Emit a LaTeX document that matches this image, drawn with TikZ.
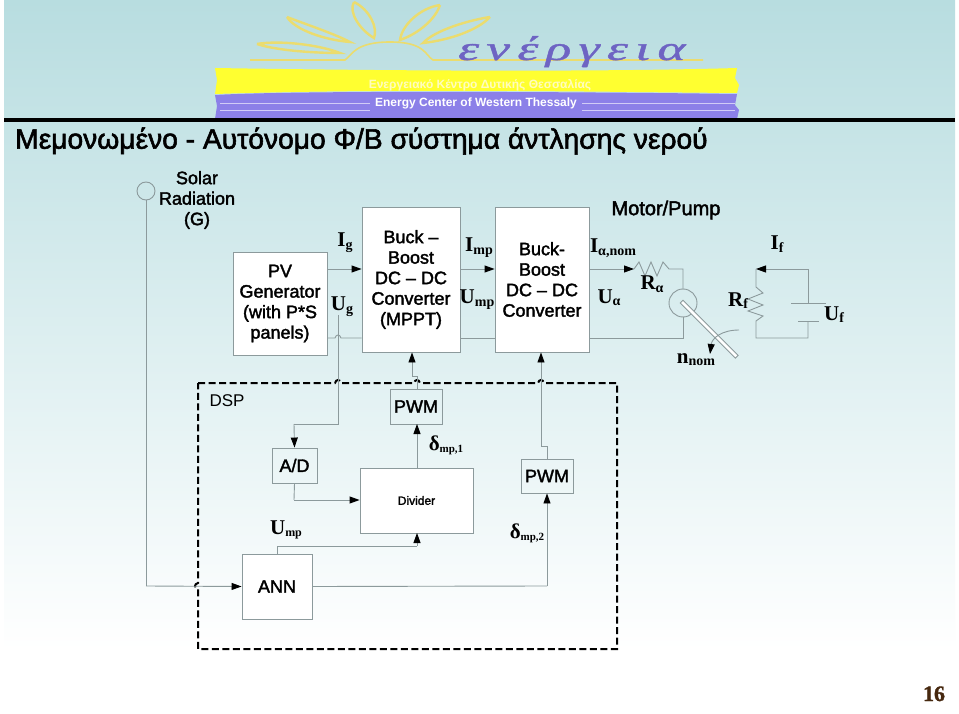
\documentclass[tikz,border=0pt]{standalone}
\usepackage{fontspec}
\setmainfont{Liberation Sans}
\newfontfamily\lab[FakeBold=2]{Liberation Sans}
\newfontfamily\srf{Liberation Serif}
\newfontfamily\srfb[FakeBold=1.5]{Liberation Serif}
\newfontfamily\logof[LetterSpace=14,FakeBold=1]{Liberation Serif}
\usetikzlibrary{arrows.meta}
\definecolor{ln}{HTML}{8C9A9C}
\definecolor{pet}{HTML}{EBDC6E}
\definecolor{bandy}{HTML}{FFFF30}
\definecolor{bandv}{HTML}{8C80E8}
\newcommand{\sbl}[3][14]{{\fontsize{21}{21}\selectfont\srf\bfseries #2}\raisebox{-2.5pt}{\fontsize{#1}{14}\selectfont\srf\bfseries #3}}
\begin{document}
\begin{tikzpicture}[x=1pt,y=-1pt,
  wire/.style={draw=ln,line width=0.9pt},
  arr/.style={wire,-{Triangle[length=10pt,width=7pt,black]}},
  boxw/.style={draw=ln,fill=white,line width=0.9pt,align=center,inner sep=0pt,font=\fontsize{18}{20.5}\selectfont\lab},
  boxn/.style={draw=ln,line width=0.9pt,align=center,inner sep=0pt,font=\fontsize{18}{20.5}\selectfont\lab},
  txt/.style={align=center,inner sep=0pt,font=\fontsize{18}{20.5}\selectfont\lab},
  sym/.style={inner sep=0pt,anchor=base},
  petal/.style={draw=pet,fill=none,line width=2.4pt},
  dsp/.style={draw=black,line width=2pt,dash pattern=on 7pt off 3.5pt}]
\useasboundingbox (0,0) rectangle (959,714);
\fill[white] (0,0) rectangle (959,714);
\shade[top color={rgb,255:red,184;green,221;blue,224},bottom color=white] (4,1) rectangle (955,650);
% logo
\draw[petal] (257,44) .. controls (280,40) and (320,45) .. (340,53) .. controls (310,53) and (275,50) .. (257,44);
\draw[petal] (287,17) .. controls (305,24) and (335,34) .. (350,42) .. controls (325,40) and (295,30) .. (287,17);
\draw[petal] (354,2) .. controls (370,10) and (378,28) .. (374,38) .. controls (360,30) and (348,12) .. (354,2);
\draw[petal] (440,5) .. controls (420,8) and (402,25) .. (400,40) .. controls (420,33) and (436,18) .. (440,5);
\draw[petal] (490,17) .. controls (470,20) and (435,30) .. (423,43) .. controls (450,40) and (478,30) .. (490,17);
\draw[petal,line width=1.6pt] (250,60) -- (345,60) .. controls (352,55) and (355,42) .. (390,42) .. controls (425,42) and (425,55) .. (433,60) -- (703,60);
\node[inner sep=0pt,anchor=base west,text={rgb,255:red,110;green,100;blue,195}] (logo) at (458,60) {\scalebox{1.56}[1]{\fontsize{34}{34}\selectfont\logof\itshape ενέργεια}};
\fill[bandy] (215,68) .. controls (400,71) and (600,72) .. (737,68) -- (735,78) -- (739,85) -- (737,93) .. controls (600,92) and (400,88) .. (215,94) -- (217,80) -- cycle;
\fill[bandv] (215,95) .. controls (300,90) and (600,92) .. (737,94) -- (735,105) -- (739,110) -- (737,119) -- (215,119) -- (217,106) -- cycle;
\draw[white!60!bandv,line width=0.6pt] (220,103) -- (370,103) (582,103) -- (735,103) (220,110) -- (370,110) (582,110) -- (735,110);
\fill[black] (4,118) rectangle (955,122);
\node[inner sep=0pt,text=white!75!yellow] (gr) at (480,85) {\fontsize{12}{12}\selectfont\bfseries Ενεργειακό Κέντρο Δυτικής Θεσσαλίας};
\node[inner sep=0pt,text=white] (en) at (476,103) {\fontsize{12}{12}\selectfont\bfseries Energy Center of Western Thessaly};
\node[inner sep=0pt,anchor=west] (title) at (15,141) {\fontsize{28.2}{28.2}\selectfont\lab Μεμονωμένο - Αυτόνομο Φ/Β σύστημα άντλησης νερού};
% blocks
\node[boxw,minimum width=94pt,minimum height=103pt] (pv) at (280,303.5) {PV\\Generator\\(with P*S\\panels)};
\node[boxw,minimum width=98pt,minimum height=145pt] (b1) at (411,279.5) {Buck –\\Boost\\DC – DC\\Converter\\(MPPT)};
\node[boxw,minimum width=94pt,minimum height=145pt] (b2) at (542,279.5) {Buck-\\Boost\\DC – DC\\Converter};
\node[boxn,minimum width=52pt,minimum height=35pt] (pwm1) at (416,406.5) {PWM};
\node[boxn,minimum width=45pt,minimum height=35pt] (ad) at (294.5,465.5) {A/D};
\node[boxw,minimum width=113pt,minimum height=65pt,font=\fontsize{12}{14}\selectfont\lab] (div) at (416.5,500.5) {Divider};
\node[boxn,minimum width=52pt,minimum height=34pt] (pwm2) at (547,476) {PWM};
\node[boxn,fill=white,minimum width=70pt,minimum height=65pt] (ann) at (277,586.5) {ANN};
\node[txt] (solar) at (197,200) {Solar\\Radiation\\(G)};
\node[txt,font=\fontsize{20}{22}\selectfont\lab] (motor) at (666,210) {Motor/Pump};
\node[inner sep=0pt,font=\fontsize{17}{20}\selectfont] (dsplbl) at (227,401) {DSP};
\node[wire,circle,minimum size=18pt,inner sep=0pt] (sun) at (146,191) {};
% dsp frame
\draw[dsp] (198,383) -- (335,383) .. controls (336,379) and (340,379) .. (341,383) -- (414,383) .. controls (415,379) and (419,379) .. (420,383) -- (538,383) .. controls (539,379) and (543,379) .. (544,383) -- (617,383) -- (617,649) -- (198,649) -- (198,589) .. controls (194,588) and (194,584) .. (198,583) -- cycle;
% connectors upper
\draw[arr] (pv.east |- 0,269) -- (b1.west |- 0,269);
\draw[arr] (b1.east |- 0,269) -- (b2.west |- 0,269);
\coordinate (ra0) at (634,269); \coordinate (rt) at (683,269); \coordinate (mt) at (683,289);
\draw[arr] (b2.east |- 0,269) -- (ra0);
\draw[wire] (ra0) -- (639,262) -- (645,276) -- (651,262) -- (657,276) -- (663,262) -- (669,269) -- (rt) -- (mt);
\node[draw=ln,line width=0.9pt,circle,minimum size=28pt,inner sep=0pt] (mot) at (683,303) {};
\coordinate (mb) at (683,338);
\draw[wire] (mot.south) -- (mb) -- (b2.east |- mb);
\draw[wire] (pv.east |- mb) -- (335,338) .. controls (336,334) and (340,334) .. (341,338) -- (b1.west |- mb);
\draw[wire] (b1.east |- mb) -- (b2.west |- mb);
\draw[wire,fill=white,rotate around={-45:(683,303)}] (681,301) rectangle (759,305);
\coordinate (na) at (739,330); \coordinate (nb) at (710,354);
\draw[wire,-{Triangle[length=10pt,width=7pt,black]}] (na) .. controls (722,330) and (712,338) .. (nb);
% field
\coordinate (ft) at (808,269); \coordinate (fl) at (756,269); \coordinate (c1) at (808,303); \coordinate (c2) at (808,321); \coordinate (fb) at (808,338); \coordinate (lb) at (756,338);
\draw[arr] (c1) -- (ft) -- (fl);
\draw[wire] (fl) -- (756,287) -- (763,293) -- (748,299) -- (763,305) -- (748,311) -- (763,316) -- (756,321) -- (lb) -- (fb) -- (c2);
\draw[wire] (791,303) -- (826,303);
\draw[wire] (798,321) -- (819,321);
% lower connectors
\coordinate (ugs) at (338,315); \coordinate (ugk) at (338,424); \coordinate (ugl) at (294,424);
\draw[wire] (ugs) -- (ugk) -- (ugl);
\draw[arr] (ugl) -- (ad.north);
\coordinate (k1) at (417,376); \coordinate (k2) at (412,376);
\draw[wire] (pwm1.north -| k1) -- (k1) -- (k2);
\draw[arr] (k2) -- (k2 |- b1.south);
\coordinate (adk) at (294,500);
\draw[wire] (ad.south) -- (adk);
\draw[arr] (adk) -- (div.west |- adk);
\draw[arr] (417,468) -- (417,424);
\coordinate (an1) at (277,546); \coordinate (an2) at (417,546);
\draw[wire] (ann.north) -- (an1) -- (an2);
\draw[arr] (an2) -- (417,533);
\coordinate (pk) at (547,586);
\draw[wire] (ann.east) -- (pk);
\draw[arr] (pk) -- (pwm2.south);
\coordinate (p1) at (547,446); \coordinate (p2) at (541,446);
\draw[wire] (pwm2.north) -- (p1) -- (p2);
\draw[arr] (p2) -- (p2 |- b2.south);
\coordinate (sk) at (146,586);
\draw[wire] (sun.south) -- (sk);
\draw[arr] (sk) -- (ann.west);
% symbols
\node[sym] (ig) at (345,247) {\sbl{I}{g}};
\node[sym] (ug) at (342,311) {\sbl{U}{g}};
\node[sym] (imp) at (479,252) {\sbl{I}{mp}};
\node[sym] (ump) at (477,304) {\sbl{U}{mp}};
\node[sym] (ian) at (613,253) {\sbl{I}{α,nom}};
\node[sym] (ua) at (609,303) {\sbl{U}{α}};
\node[sym] (ra) at (652,290) {\sbl{R}{α}};
\node[sym] (rf) at (738,306) {\sbl{R}{f}};
\node[sym] (if) at (777,250) {\sbl{I}{f}};
\node[sym] (uf) at (834,320) {\sbl{U}{f}};
\node[sym] (nn) at (696,363) {\sbl{n}{nom}};
\node[sym] (um) at (286,534) {\sbl[12]{U}{mp}};
\node[sym] (d1) at (446,450) {\sbl[11]{δ}{mp,1}};
\node[sym] (d2) at (527,538) {\sbl[11]{δ}{mp,2}};
\node[sym,text={rgb,255:red,70;green,40;blue,15}] (pg) at (934,701) {\fontsize{22}{22}\selectfont\srfb\bfseries 16};
\end{tikzpicture}
\end{document}
